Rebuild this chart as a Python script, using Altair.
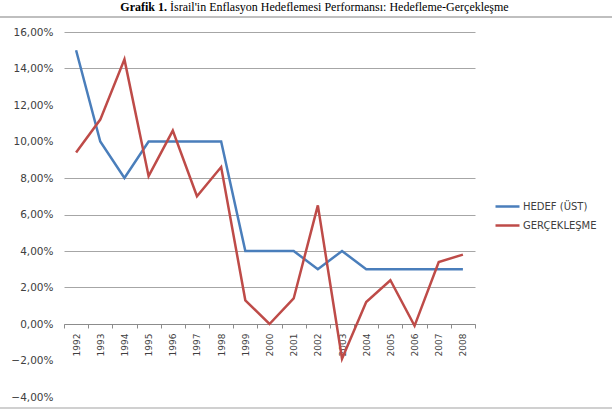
import altair as alt
import pandas as pd

# ---- data ----
years = ["1992", "1993", "1994", "1995", "1996", "1997", "1998", "1999", "2000",
         "2001", "2002", "2003", "2004", "2005", "2006", "2007", "2008"]
hedef = [15, 10, 8, 10, 10, 10, 10, 4, 4, 4, 3, 4, 3, 3, 3, 3, 3]
gercek = [9.4, 11.2, 14.5, 8.1, 10.6, 7.0, 8.6, 1.3, 0.0, 1.4, 6.5, -1.9, 1.2, 2.4, -0.1, 3.4, 3.8]
series_names = ["HEDEF (ÜST)", "GERÇEKLEŞME"]
series_colors = ["#4A7EBB", "#BE4B48"]
y_ticks = [-4, -2, 0, 2, 4, 6, 8, 10, 12, 14, 16]
no_grid = [-4, -2, 10, 12]
title_bold = "Grafik 1."
title_rest = "İsrail'in Enflasyon Hedeflemesi Performansı: Hedefleme-Gerçekleşme"

df = pd.DataFrame({
    "Yıl": years * 2,
    "Değer": hedef + gercek,
    "Seri": [series_names[0]] * len(years) + [series_names[1]] * len(years),
})

W, H = 411, 365
LEFT, TOP = 64, 32

x_enc = alt.X(
    "Yıl:O",
    scale=alt.Scale(type="band", paddingInner=0, paddingOuter=0),
    bandPosition=0.5,
    axis=alt.Axis(
        title=None, orient="bottom", offset=-73, tickBand="extent",
        labelAngle=270, labelAlign="right", labelBaseline="middle",
        labelPadding=5, tickSize=4, tickColor="#8c8c8c", domainColor="#8c8c8c",
        labelFont="DejaVu Sans", labelFontSize=9, labelColor="#404040", grid=False,
    ),
)
grid_test = "indexof([" + ",".join(str(v) for v in no_grid) + "], datum.value) >= 0"
y_enc = alt.Y(
    "Değer:Q",
    scale=alt.Scale(domain=[-4, 16], nice=False, zero=False),
    axis=alt.Axis(
        values=y_ticks, title=None, domain=False, ticks=False,
        labelExpr="replace(format(datum.value, '.2f'), '.', ',') + '%'",
        labelFont="DejaVu Sans", labelFontSize=10.5, labelColor="#404040",
        labelPadding=11, gridColor="#a6a6a6",
        gridOpacity={"condition": {"test": grid_test, "value": 0}, "value": 1},
    ),
)
color_enc = alt.Color(
    "Seri:N",
    scale=alt.Scale(domain=series_names, range=series_colors),
    legend=alt.Legend(
        title=None, orient="none", legendX=430, legendY=161,
        symbolType="stroke", symbolSize=576, symbolStrokeWidth=2.5,
        labelFont="DejaVu Sans", labelFontSize=10, labelColor="#404040",
        labelOffset=2, rowPadding=0, padding=0,
    ),
)

base = alt.Chart(df)
blue = base.transform_filter(alt.datum.Seri == series_names[0]).mark_line(strokeWidth=2.5).encode(
    x=x_enc, y=y_enc, color=color_enc)
red = base.transform_filter(alt.datum.Seri == series_names[1]).mark_line(strokeWidth=2.5).encode(
    x=x_enc, y=y_enc, color=color_enc)

dummy = alt.Chart(pd.DataFrame({"t": [title_bold], "u": [title_rest]}))
t1 = dummy.mark_text(font="Liberation Serif", fontSize=12, fontWeight="bold", align="right",
                     baseline="alphabetic", color="#000000").encode(
    text="t:N", x=alt.value(103), y=alt.value(-21))
t2 = dummy.mark_text(font="Liberation Serif", fontSize=12, align="left",
                     baseline="alphabetic", color="#000000").encode(
    text="u:N", x=alt.value(106), y=alt.value(-21))
top_line = dummy.mark_rule(color="#bfbfbf", strokeWidth=2).encode(
    x=alt.value(-LEFT), x2=alt.value(612 - LEFT), y=alt.value(17 - TOP))
bot_line = dummy.mark_rule(color="#d0d0d0", strokeWidth=2).encode(
    x=alt.value(-LEFT), x2=alt.value(612 - LEFT), y=alt.value(408 - TOP))

chart = alt.layer(blue, red, t1, t2, top_line, bot_line).properties(
    width=W, height=H,
    autosize=alt.AutoSizeParams(type="none"),
    padding={"left": LEFT, "top": TOP, "right": 612 - LEFT - W, "bottom": 410 - TOP - H},
    background="white",
).configure_view(strokeOpacity=0)

chart.save("out.html", embed_options={"renderer": "svg", "actions": False})
